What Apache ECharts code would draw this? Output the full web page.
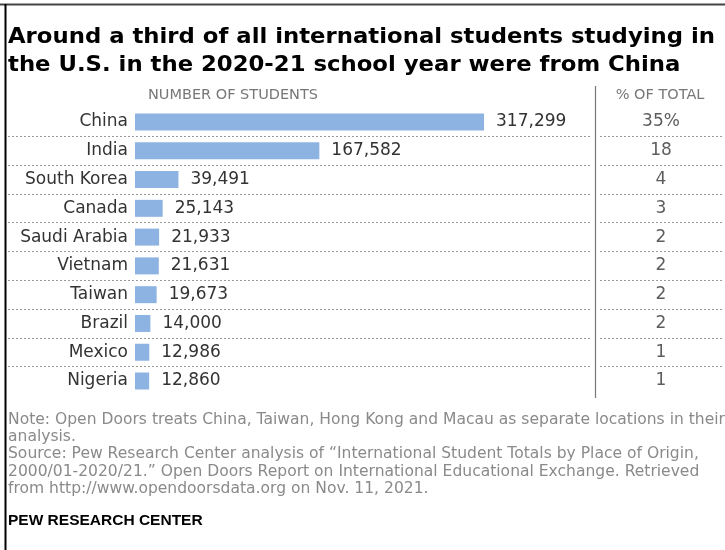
<!DOCTYPE html>
<html>
<head>
<meta charset="utf-8">
<script src="https://cdn.jsdelivr.net/npm/echarts@6/dist/echarts.min.js"></script>
<style>html,body{margin:0;padding:0;background:#fff;}#c{width:725px;height:550px;}</style>
</head>
<body>
<div id="c"></div>
<script>
const categories = ['China','India','South Korea','Canada','Saudi Arabia','Vietnam','Taiwan','Brazil','Mexico','Nigeria'];
const students = [317299,167582,39491,25143,21933,21631,19673,14000,12986,12860];
const pctOfTotal = ['35%','18','4','3','2','2','2','2','1','1'];
const titleLines = ['Around a third of all international students studying in','the U.S. in the 2020-21 school year were from China'];
const noteLines = [
  'Note: Open Doors treats China, Taiwan, Hong Kong and Macau as separate locations in their',
  'analysis.',
  'Source: Pew Research Center analysis of \u201cInternational Student Totals by Place of Origin,',
  '2000/01-2020/21.\u201d Open Doors Report on International Educational Exchange. Retrieved',
  'from http://www.opendoorsdata.org on Nov. 11, 2021.'
];

const FONT = '"DejaVu Sans", "Liberation Sans", sans-serif';
const TITLE_FONT = 'bold 20.5px "DejaVu Sans", sans-serif';
const NOTE_FONT = '15px "DejaVu Sans", sans-serif';

const ctx = document.createElement('canvas').getContext('2d');
function widthOf(text, font){ ctx.font = font; return ctx.measureText(text).width; }
const titleScale = 707 / widthOf(titleLines[0], TITLE_FONT);
const noteScale = 717 / widthOf(noteLines[0], NOTE_FONT);

const chart = echarts.init(document.getElementById('c'), null, {renderer:'canvas'});
const top0 = 107.6, h = 287.8;
const dotted = {show:true, showMinLine:false, showMaxLine:false, lineStyle:{type:[2,2], color:'#9a9a9a', width:1}};

const graphics = [
  {type:'line', shape:{x1:0,y1:4.5,x2:725,y2:4.5}, style:{stroke:'#444', lineWidth:2}},
  {type:'line', shape:{x1:5.5,y1:4,x2:5.5,y2:550}, style:{stroke:'#000', lineWidth:2}},
  {type:'line', shape:{x1:595.5,y1:86,x2:595.5,y2:398}, style:{stroke:'#777', lineWidth:1.2}},
  {type:'text', style:{text:'NUMBER OF STUDENTS', x:233, y:95, fill:'#777', font:'14.5px '+FONT, textAlign:'center', textVerticalAlign:'middle'}},
  {type:'text', style:{text:'% OF TOTAL', x:660, y:95, fill:'#777', font:'14.5px '+FONT, textAlign:'center', textVerticalAlign:'middle'}},
  {type:'text', style:{text:'PEW RESEARCH CENTER', x:8, y:521, fill:'#000', font:'bold 15.5px "Liberation Sans", Arial, sans-serif', textVerticalAlign:'middle'}}
];
titleLines.forEach((t,i)=>graphics.push({type:'text', x:8, y:38+i*28, scaleX:titleScale,
  style:{text:t, x:0, y:0, fill:'#000', font:TITLE_FONT, textVerticalAlign:'middle'}}));
noteLines.forEach((t,i)=>graphics.push({type:'text', x:8, y:420+i*17.3, scaleX:noteScale,
  style:{text:t, x:0, y:0, fill:'#8a8a8a', font:NOTE_FONT, textVerticalAlign:'middle'}}));

chart.setOption({
  animation:false,
  graphic: graphics,
  grid:[
    {left:8, top:top0, width:582, height:h},
    {left:600, top:top0, width:122, height:h},
    {left:135, top:top0, width:440, height:h}
  ],
  xAxis:[
    {gridIndex:0, type:'value', show:false, min:0, max:1},
    {gridIndex:1, type:'value', show:false, min:0, max:1},
    {gridIndex:2, type:'value', show:false, min:0, max:400000}
  ],
  yAxis:[
    {gridIndex:0, type:'category', inverse:true, data:categories, axisLine:{show:false}, axisTick:{show:false}, axisLabel:{show:false}, splitLine:dotted},
    {gridIndex:1, type:'category', inverse:true, data:categories, axisLine:{show:false}, axisTick:{show:false}, axisLabel:{show:false}, splitLine:dotted},
    {gridIndex:2, type:'category', inverse:true, data:categories, axisLine:{show:false}, axisTick:{show:false}, splitLine:{show:false},
      axisLabel:{color:'#333', fontSize:17, fontFamily:FONT, margin:7}}
  ],
  series:[
    {type:'bar', xAxisIndex:2, yAxisIndex:2, data:students, barWidth:17,
      itemStyle:{color:'#8db3e2'},
      label:{show:true, position:'right', distance:12, color:'#333', fontSize:17, fontFamily:FONT,
        formatter:p=>p.value.toLocaleString('en-US')}},
    {type:'scatter', xAxisIndex:1, yAxisIndex:1, symbolSize:0,
      data:pctOfTotal.map((v,i)=>[0.5,i]),
      label:{show:true, position:'inside', color:'#333', fontSize:17, fontFamily:FONT,
        formatter:p=>pctOfTotal[p.dataIndex]}}
  ]
});
</script>
</body>
</html>
